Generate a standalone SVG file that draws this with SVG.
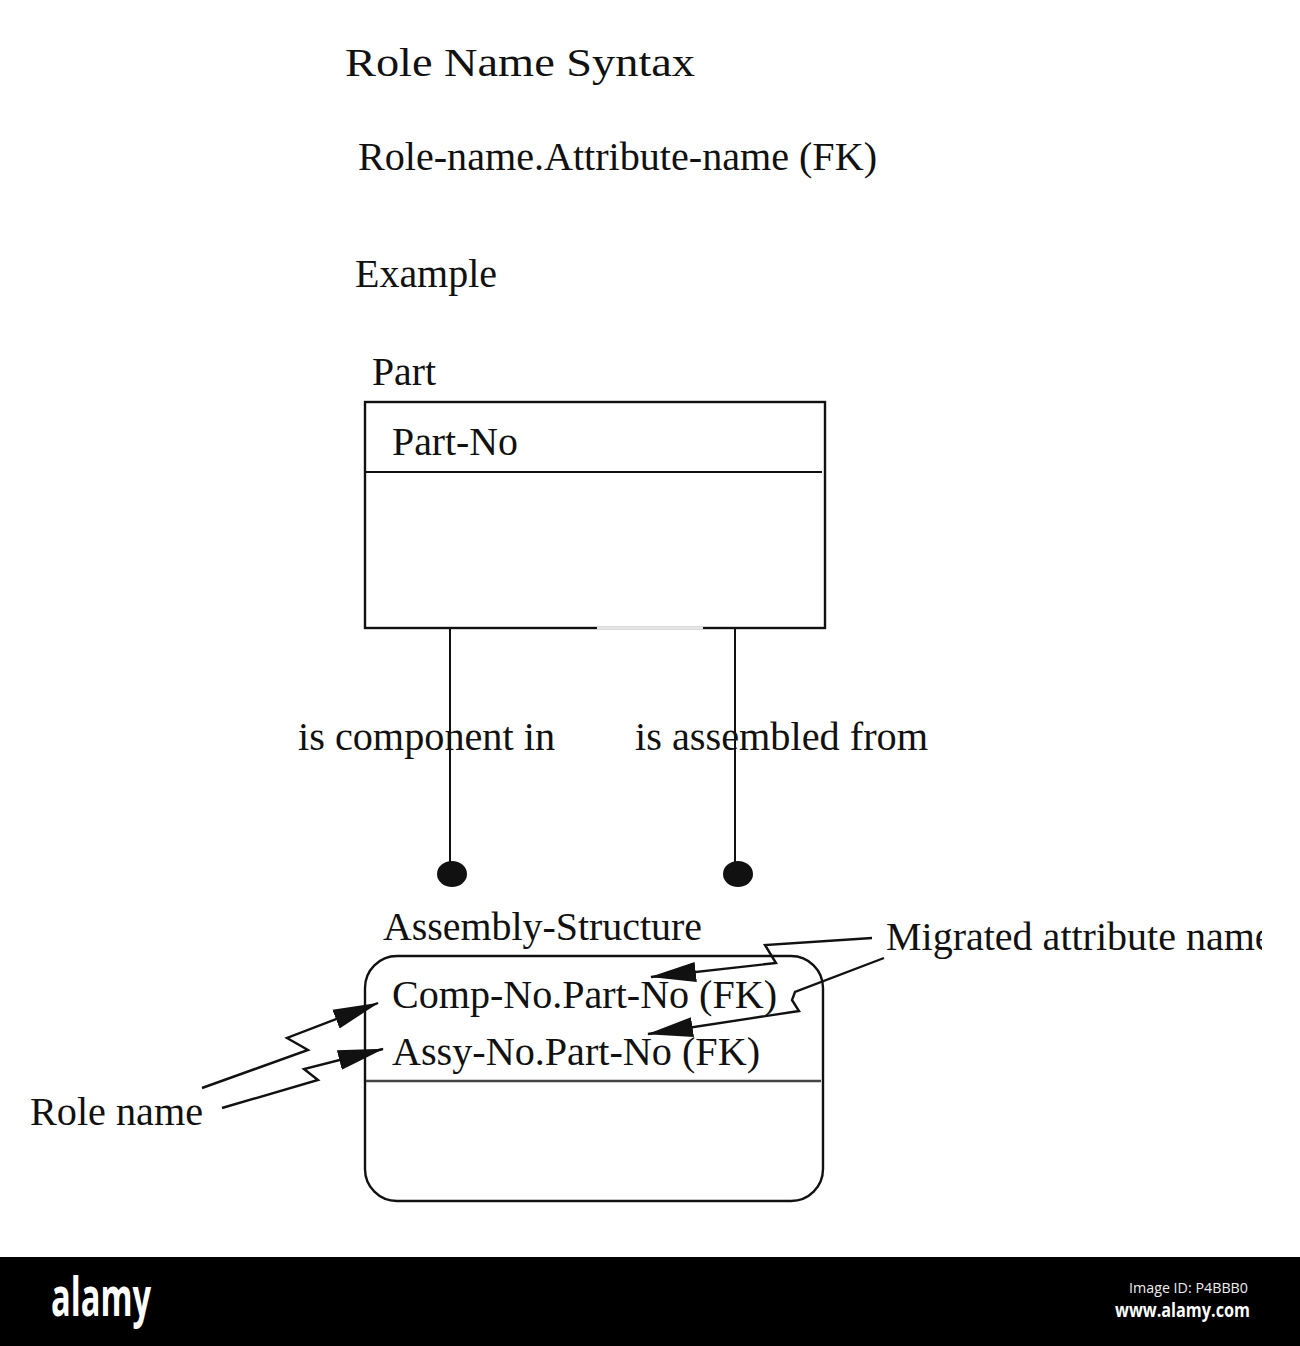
<svg xmlns="http://www.w3.org/2000/svg" width="1300" height="1346" viewBox="0 0 1300 1346">
<style>
  .t { font-family: "Liberation Serif", "Times New Roman", serif; font-size: 40px; fill: #111; }
  .box { fill: #fff; stroke: #111; stroke-width: 2.4; }
  .ln { fill: none; stroke: #111; stroke-width: 2; }
  .ar { fill: none; stroke: #111; stroke-width: 2.4; stroke-linejoin: miter; }
</style>
<defs>
  <marker id="ah" viewBox="0 0 46 22" refX="45" refY="11" markerWidth="46" markerHeight="22" markerUnits="userSpaceOnUse" orient="auto">
    <path d="M0,1 L46,11 L0,21 Z" fill="#111"/>
  </marker>
  <clipPath id="clipR"><rect x="0" y="0" width="1262" height="1346"/></clipPath>
</defs>
<rect x="0" y="0" width="1300" height="1346" fill="#fff"/>

<g id="title">
  <text class="t" x="345" y="76" font-size="45" textLength="350" lengthAdjust="spacingAndGlyphs">Role Name Syntax</text>
  <text class="t" x="358" y="170" textLength="519" lengthAdjust="spacingAndGlyphs">Role-name.Attribute-name (FK)</text>
  <text class="t" x="355" y="287" textLength="142" lengthAdjust="spacingAndGlyphs">Example</text>
</g>

<g id="part">
  <text class="t" x="372" y="385" textLength="64" lengthAdjust="spacingAndGlyphs">Part</text>
  <rect class="box" x="365" y="402" width="460" height="226"/>
  <line class="ln" x1="365" y1="472" x2="822" y2="472"/>
  <line x1="597" y1="628" x2="703" y2="628" stroke="#e6e6e6" stroke-width="3"/>
  <text class="t" x="392" y="455" textLength="126" lengthAdjust="spacingAndGlyphs">Part-No</text>
</g>

<g id="assembly-structure">
  <text class="t" x="383" y="940" textLength="319" lengthAdjust="spacingAndGlyphs">Assembly-Structure</text>
  <rect class="box" x="365" y="956" width="458" height="245" rx="32" ry="32"/>
  <line x1="366" y1="1081" x2="821" y2="1081" stroke="#444" stroke-width="2.4"/>
  <text class="t" x="392" y="1008" textLength="385" lengthAdjust="spacingAndGlyphs">Comp-No.Part-No (FK)</text>
  <text class="t" x="392" y="1065" textLength="368" lengthAdjust="spacingAndGlyphs">Assy-No.Part-No (FK)</text>
</g>

<g id="connectors">
  <line class="ln" x1="450" y1="628" x2="450" y2="866"/>
  <ellipse cx="452" cy="874" rx="15" ry="13" fill="#111"/>
  <line class="ln" x1="735" y1="628" x2="735" y2="866"/>
  <ellipse cx="738" cy="874" rx="15" ry="13" fill="#111"/>
  <polyline class="ar" points="872,938 765,945 776,963 651,977" marker-end="url(#ah)"/>
  <polyline class="ar" points="884,958 795,992 792,1000 799,1011 648,1034" marker-end="url(#ah)"/>
  <polyline class="ar" points="202,1088 308,1050 287,1038 378,1003" marker-end="url(#ah)"/>
  <polyline class="ar" points="222,1108 318,1080 304,1069 383,1049" marker-end="url(#ah)"/>
</g>

<g id="labels">
  <text class="t" x="298" y="750" textLength="257" lengthAdjust="spacingAndGlyphs">is component in</text>
  <text class="t" x="635" y="750" textLength="293" lengthAdjust="spacingAndGlyphs">is assembled from</text>
  <g clip-path="url(#clipR)">
    <text class="t" x="886" y="950">Migrated attribute name</text>
  </g>
  <text class="t" x="30" y="1125" textLength="173" lengthAdjust="spacingAndGlyphs">Role name</text>
</g>

<g id="banner">
  <rect x="0" y="1257" width="1300" height="89" fill="#000"/>
  <text x="51" y="1316" font-family="'Open Sans', 'DejaVu Sans', sans-serif" font-weight="bold" font-size="54" fill="#fff" textLength="100" lengthAdjust="spacingAndGlyphs">alamy</text>
  <text x="1129" y="1293" font-family="'Open Sans', 'DejaVu Sans', sans-serif" font-size="15" fill="#eee" textLength="119" lengthAdjust="spacingAndGlyphs">Image ID: P4BBB0</text>
  <text x="1115" y="1317" font-family="'Open Sans', 'DejaVu Sans', sans-serif" font-weight="bold" font-size="19" fill="#fff" textLength="135" lengthAdjust="spacingAndGlyphs">www.alamy.com</text>
</g>
</svg>
